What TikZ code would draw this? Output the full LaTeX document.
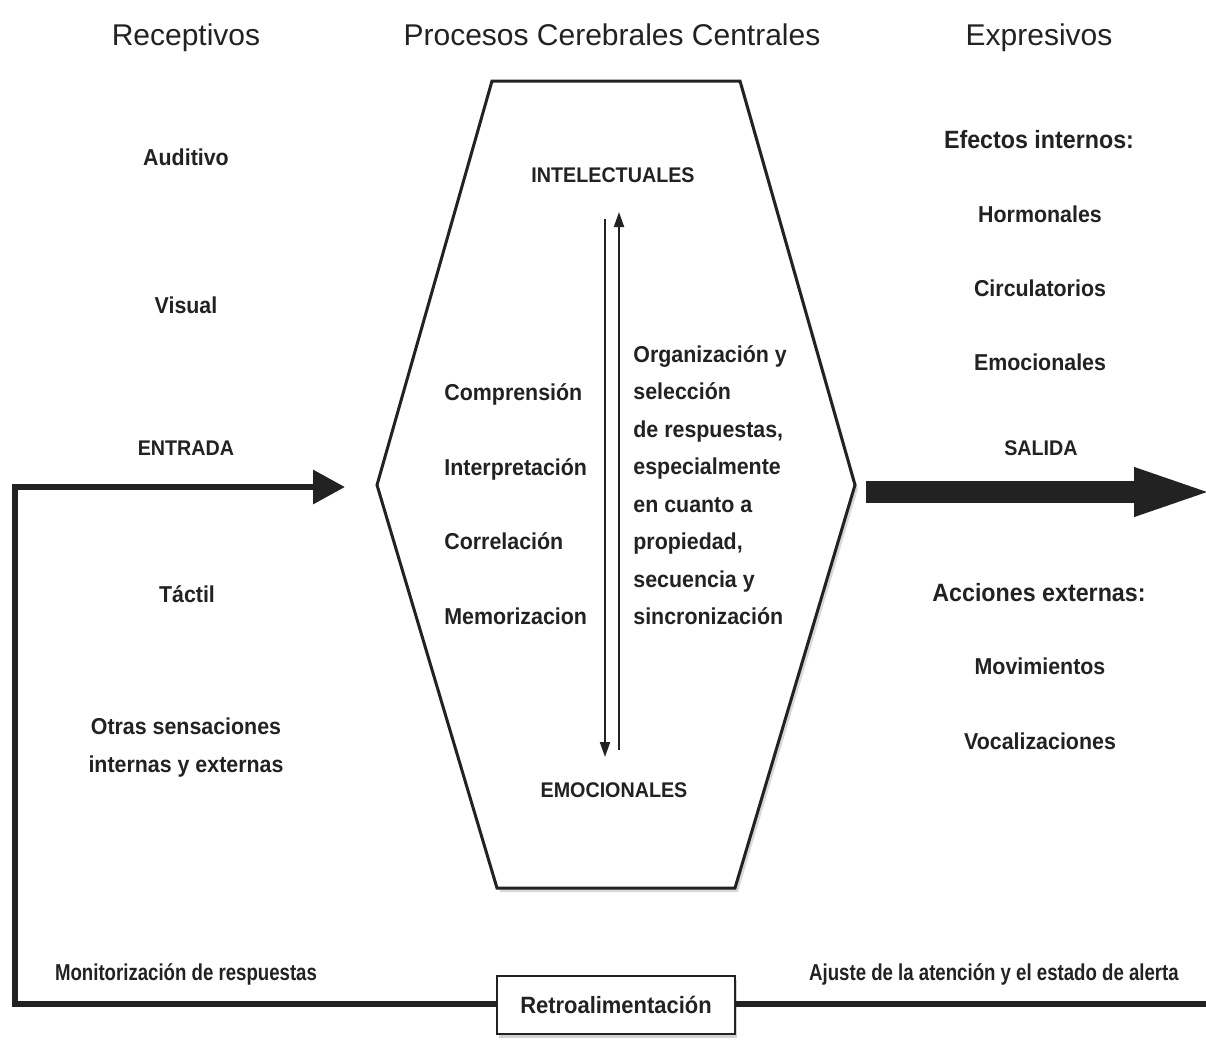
\documentclass[tikz,border=0pt]{standalone}
\usepackage{fontspec}
\setmainfont{Liberation Sans}
\newfontfamily\titlefont{Liberation Sans}
\newfontfamily\bodyfont{Liberation Sans}[FakeStretch=0.93]
\newfontfamily\narrowfont{Liberation Sans}[FakeStretch=0.81]
\usetikzlibrary{arrows.meta,shadows}
\definecolor{ink}{HTML}{222222}
\tikzset{
  ttl/.style={font=\titlefont\fontsize{15}{18}\selectfont, anchor=base, text=ink, inner sep=0pt},
  lbl/.style={font=\bodyfont\bfseries\fontsize{11.5}{14}\selectfont, anchor=base, text=ink, inner sep=0pt},
  lblL/.style={lbl, anchor=base west},
  caps/.style={font=\bodyfont\bfseries\fontsize{10.6}{13}\selectfont, anchor=base, text=ink, inner sep=0pt},
  hdr/.style={font=\bodyfont\bfseries\fontsize{12.5}{15}\selectfont, anchor=base, text=ink, inner sep=0pt},
  smalllbl/.style={font=\narrowfont\bfseries\fontsize{11.5}{14}\selectfont, anchor=base, text=ink, inner sep=0pt},
  hexa/.style={draw=ink, line width=1.5pt, line join=miter, fill=white,
    drop shadow={opacity=0.3, shadow xshift=1.5pt, shadow yshift=-2pt}},
  fbline/.style={draw=ink, line width=3.2pt, line join=miter},
  thin arrow/.style={draw=ink, line width=1pt, -{Triangle[length=7.5pt,width=5pt]}},
  retrobox/.style={draw=ink, line width=1.2pt, fill=white, minimum width=119pt, minimum height=29pt,
    inner sep=0pt, font=\bodyfont\bfseries\fontsize{11.8}{14}\selectfont, text=ink,
    drop shadow={opacity=0.35, shadow xshift=1pt, shadow yshift=-2pt}},
}
\begin{document}
\begin{tikzpicture}[x=0.5pt,y=-0.5pt]
\useasboundingbox (0,0) rectangle (1206,1040);
\fill[white] (0,0) rectangle (1206,1040);

% hexagon
\coordinate (h1) at (492,81);
\coordinate (h2) at (740,81);
\coordinate (h3) at (855,485);
\coordinate (h4) at (735,888);
\coordinate (h5) at (497,888);
\coordinate (h6) at (377,485);
\path[hexa] (h1) -- (h2) -- (h3) -- (h4) -- (h5) -- (h6) -- cycle;

% titles
\node[ttl] (tRec) at (186,45) {Receptivos};
\node[ttl] (tPro) at (612,45) {Procesos Cerebrales Centrales};
\node[ttl] (tExp) at (1039,45) {Expresivos};

% left column
\node[lbl] (aud) at (186,165) {Auditivo};
\node[lbl] (vis) at (186,313) {Visual};
\node[caps] (ent) at (186,455) {ENTRADA};
\node[lbl] (tac) at (187,602) {Táctil};
\node[lbl] (otr1) at (186,734) {Otras sensaciones};
\node[lbl] (otr2) at (186,772) {internas y externas};

% centre
\node[caps] (intel) at (613,182) {INTELECTUALES};
\node[caps] (emoc) at (614,797) {EMOCIONALES};
\node[lblL] (c1) at (444,400) {Comprensión};
\node[lblL] (c2) at (444,475) {Interpretación};
\node[lblL] (c3) at (444,549) {Correlación};
\node[lblL] (c4) at (444,624) {Memorizacion};
\node[lblL] (r1) at (633,362) {Organización y};
\node[lblL] (r2) at (633,399.5) {selección};
\node[lblL] (r3) at (633,437) {de respuestas,};
\node[lblL] (r4) at (633,474.5) {especialmente};
\node[lblL] (r5) at (633,512) {en cuanto a};
\node[lblL] (r6) at (633,549.5) {propiedad,};
\node[lblL] (r7) at (633,587) {secuencia y};
\node[lblL] (r8) at (633,624.5) {sincronización};

\coordinate (dnS) at (605,219);
\coordinate (dnE) at (605,757);
\coordinate (upS) at (619,750);
\coordinate (upE) at (619,212);
\draw[thin arrow] (dnS) -- (dnE);
\draw[thin arrow] (upS) -- (upE);

% right column
\node[hdr] (efe) at (1039,148) {Efectos internos:};
\node[lbl] (hor) at (1040,222) {Hormonales};
\node[lbl] (cir) at (1040,296) {Circulatorios};
\node[lbl] (emo) at (1040,370) {Emocionales};
\node[caps] (sal) at (1041,455) {SALIDA};
\node[hdr] (acc) at (1039,601) {Acciones externas:};
\node[lbl] (mov) at (1040,674) {Movimientos};
\node[lbl] (voc) at (1040,749) {Vocalizaciones};

% output arrow
\coordinate (outS) at (866,492);
\coordinate (outE) at (1218,492);
\draw[draw=ink, line width=11pt, -{Triangle[length=42pt,width=21pt]}] (outS) -- (outE);

% feedback
\node[retrobox] (retro) at (616,1005) {Retroalimentación};
\node[smalllbl] (mon) at (186,980) {Monitorización de respuestas};
\node[smalllbl] (aju) at (994,980) {Ajuste de la atención y el estado de alerta};
\coordinate (fbR) at (1206,1004);
\coordinate (fbL) at (15,1004);
\coordinate (inL) at (15,487);
\coordinate (inTip) at (345,487);
\draw[fbline] (retro.east |- fbR) -- (fbR);
\draw[fbline, -{Triangle[length=16pt,width=16.5pt]}] (retro.west |- fbL) -- (fbL) -- (inL) -- (inTip);
\end{tikzpicture}
\end{document}
